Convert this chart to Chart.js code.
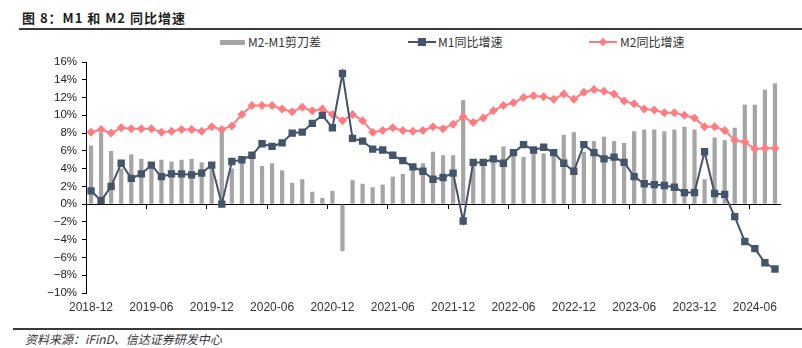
<!DOCTYPE html>
<html>
<head>
<meta charset="utf-8">
<script src="https://cdn.jsdelivr.net/npm/chart.js@4.4.1/dist/chart.umd.min.js"></script>
<style>
body { margin: 0; background: #fff; width: 802px; height: 348px; position: relative; overflow: hidden; }
#title { position: absolute; left: 22px; top: 9px; font: bold 13px "Noto Sans CJK SC", sans-serif; color: #1e1e1e; line-height: 17px; letter-spacing: 1px; white-space: nowrap; }
#topline { position: absolute; left: 19px; right: 0; top: 28px; height: 2px; background: #3a3a3a; }
#botline { position: absolute; left: 13px; right: 0; top: 328px; height: 2px; background: #3a3a3a; }
#source { position: absolute; left: 25px; top: 331px; font: italic 12px "Noto Sans CJK SC", sans-serif; color: #333; line-height: 16px; white-space: nowrap; }
.lgtext { position: absolute; top: 34px; font: 12px "Noto Sans CJK SC", sans-serif; color: #333; line-height: 16px; white-space: nowrap; }
.sw { position: absolute; }
#wrap { position: absolute; left: 0; top: 50px; width: 802px; height: 270px; }
</style>
</head>
<body>
<div id="title">图 8：M1 和 M2 同比增速</div>
<div id="topline"></div>

<div class="sw" style="left:220px;top:40px;width:25px;height:5px;background:#a5a5a5"></div>
<div class="lgtext" style="left:248px">M2-M1剪刀差</div>
<div class="sw" style="left:408px;top:41px;width:28px;height:2px;background:#44546a"></div>
<div class="sw" style="left:418px;top:38px;width:8px;height:8px;background:#44546a"></div>
<div class="lgtext" style="left:438px">M1同比增速</div>
<div class="sw" style="left:589px;top:41px;width:28px;height:2px;background:#ff7c80"></div>
<div class="sw" style="left:600px;top:39px;width:6px;height:6px;background:#ff7c80;transform:rotate(45deg)"></div>
<div class="lgtext" style="left:620px">M2同比增速</div>

<div id="wrap"><canvas id="mChart" width="802" height="270"></canvas></div>

<div id="botline"></div>
<div id="source">资料来源：iFinD、信达证券研发中心</div>

<script>
const months = [
  '2018-12',
  '2019-01', '2019-02', '2019-03', '2019-04', '2019-05', '2019-06', '2019-07', '2019-08', '2019-09', '2019-10', '2019-11', '2019-12',
  '2020-01', '2020-02', '2020-03', '2020-04', '2020-05', '2020-06', '2020-07', '2020-08', '2020-09', '2020-10', '2020-11', '2020-12',
  '2021-01', '2021-02', '2021-03', '2021-04', '2021-05', '2021-06', '2021-07', '2021-08', '2021-09', '2021-10', '2021-11', '2021-12',
  '2022-01', '2022-02', '2022-03', '2022-04', '2022-05', '2022-06', '2022-07', '2022-08', '2022-09', '2022-10', '2022-11', '2022-12',
  '2023-01', '2023-02', '2023-03', '2023-04', '2023-05', '2023-06', '2023-07', '2023-08', '2023-09', '2023-10', '2023-11', '2023-12',
  '2024-01', '2024-02', '2024-03', '2024-04', '2024-05', '2024-06', '2024-07', '2024-08'
];

// M1 同比 (%)
const m1Growth = [
  1.5,
  0.4, 2.0, 4.6, 2.9, 3.4, 4.4, 3.1, 3.4, 3.4, 3.3, 3.5, 4.4,
  0.0, 4.8, 5.0, 5.5, 6.8, 6.5, 6.9, 8.0, 8.1, 9.1, 10.0, 8.6,
  14.7, 7.4, 7.1, 6.2, 6.1, 5.5, 4.9, 4.2, 3.7, 2.8, 3.0, 3.5,
  -1.9, 4.7, 4.7, 5.1, 4.6, 5.8, 6.7, 6.1, 6.4, 5.8, 4.6, 3.7,
  6.7, 5.8, 5.1, 5.3, 4.7, 3.1, 2.3, 2.2, 2.1, 1.9, 1.3, 1.3,
  5.9, 1.2, 1.1, -1.4, -4.2, -5.0, -6.6, -7.3
];

// M2 同比 (%)
const m2Growth = [
  8.1,
  8.4, 8.0, 8.6, 8.5, 8.5, 8.5, 8.1, 8.2, 8.4, 8.4, 8.2, 8.7,
  8.4, 8.8, 10.1, 11.1, 11.1, 11.1, 10.7, 10.4, 10.9, 10.5, 10.7, 10.1,
  9.4, 10.1, 9.4, 8.1, 8.3, 8.6, 8.3, 8.2, 8.3, 8.7, 8.5, 9.0,
  9.8, 9.2, 9.7, 10.5, 11.1, 11.4, 12.0, 12.2, 12.1, 11.8, 12.4, 11.8,
  12.6, 12.9, 12.7, 12.4, 11.6, 11.3, 10.7, 10.6, 10.3, 10.3, 10.0, 9.7,
  8.7, 8.7, 8.3, 7.2, 7.0, 6.2, 6.3, 6.3
];

// M2-M1 剪刀差 (%)
const scissorGap = [
  6.6,
  8.0, 6.0, 4.0, 5.6, 5.1, 4.1, 5.0, 4.8, 5.0, 5.1, 4.7, 4.3,
  8.4, 4.0, 5.1, 5.6, 4.3, 4.6, 3.8, 2.4, 2.8, 1.4, 0.7, 1.5,
  -5.3, 2.7, 2.3, 1.9, 2.2, 3.1, 3.4, 4.0, 4.6, 5.9, 5.5, 5.5,
  11.7, 4.5, 5.0, 5.4, 6.5, 5.6, 5.3, 6.1, 5.7, 6.0, 7.8, 8.1,
  5.9, 7.1, 7.6, 7.1, 6.9, 8.2, 8.4, 8.4, 8.2, 8.4, 8.7, 8.4,
  2.8, 7.5, 7.2, 8.6, 11.2, 11.2, 12.9, 13.6
];

const yTicks = { min: -10, max: 16, step: 2 };

const ctx = document.getElementById('mChart').getContext('2d');
new Chart(ctx, {
    type: 'bar',
    data: {
        labels: months,
        datasets: [
            {
                type: 'line',
                label: 'M1同比增速',
                data: m1Growth,
                borderColor: '#44546a',
                backgroundColor: '#44546a',
                borderWidth: 2,
                pointStyle: 'rect',
                pointRadius: 5.2,
                pointBorderWidth: 0,
                tension: 0,
                order: 1
            },
            {
                type: 'line',
                label: 'M2同比增速',
                data: m2Growth,
                borderColor: '#ff7c80',
                backgroundColor: '#ff7c80',
                borderWidth: 2,
                pointStyle: 'rectRot',
                pointRadius: 4.5,
                pointBorderWidth: 0,
                tension: 0,
                order: 2
            },
            {
                label: 'M2-M1剪刀差',
                data: scissorGap,
                backgroundColor: '#a5a5a5',
                barPercentage: 0.42,
                categoryPercentage: 1.0,
                order: 3
            }
        ]
    },
    options: {
        responsive: false,
        animation: false,
        layout: { padding: { top: 12, right: 22, left: 0, bottom: 0 } },
        plugins: {
            legend: { display: false },
            tooltip: { enabled: false }
        },
        scales: {
            x: {
                type: 'category',
                position: 'bottom',
                offset: true,
                grid: { display: false, drawTicks: false, offset: true },
                border: { display: false },
                ticks: {
                    autoSkip: false,
                    maxRotation: 0,
                    padding: 7,
                    color: '#333',
                    font: { family: 'Liberation Sans', size: 12 },
                    callback: function(value, index) {
                        return index % 6 === 0 ? months[index] : '';
                    }
                },
                afterFit: function(scale) { scale.height = 27; }
            },
            x2: {
                type: 'category',
                axis: 'x',
                position: { y: 0 },
                offset: true,
                grid: {
                    offset: true,
                    drawOnChartArea: false,
                    drawTicks: true,
                    tickLength: 4,
                    color: function(c) {
                        return c.index % 6 === 0 ? '#000' : 'rgba(0,0,0,0)';
                    }
                },
                border: { display: true, color: '#000', width: 1 },
                ticks: { display: false }
            },
            y: {
                min: yTicks.min,
                max: yTicks.max,
                grid: { drawOnChartArea: false, drawTicks: true, tickLength: 4, color: '#000' },
                border: { display: true, color: '#000', width: 1 },
                ticks: {
                    stepSize: yTicks.step,
                    padding: 5,
                    color: '#222',
                    font: { family: 'Liberation Sans', size: 11.5 },
                    callback: function(v) {
                        return (v < 0 ? '−' + Math.abs(v) : v) + '%';
                    }
                },
                afterFit: function(scale) { scale.width = 86; }
            }
        }
    }
});
</script>
</body>
</html>
